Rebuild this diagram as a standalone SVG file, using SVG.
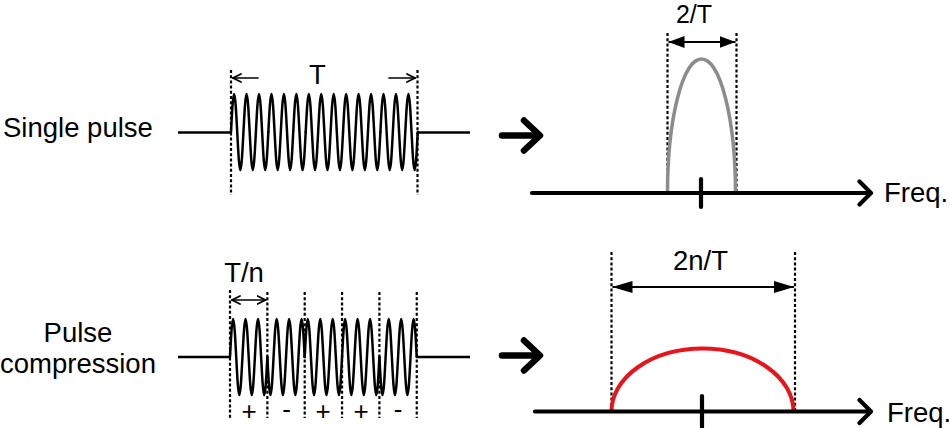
<svg xmlns="http://www.w3.org/2000/svg" width="950" height="428" viewBox="0 0 950 428">
<style>
text{font-family:"Liberation Sans",Arial,sans-serif;fill:#000}
.lbl{font-size:27.5px}
.sm{font-size:25px}
.sgn{font-size:26px;text-anchor:middle}
.wave{fill:none;stroke:#000;stroke-width:2.5;stroke-linecap:round;stroke-linejoin:round}
.base{fill:none;stroke:#000;stroke-width:2.4}
.dot{fill:none;stroke:#000;stroke-width:2.2;stroke-dasharray:3 2.2}
.thin{fill:none;stroke:#000;stroke-width:1.7;stroke-linecap:round;stroke-linejoin:round}
.axis{fill:none;stroke:#000;stroke-width:4.2;stroke-linecap:round;stroke-linejoin:round}
.big{fill:none;stroke:#000;stroke-width:6.5;stroke-linecap:round;stroke-linejoin:round}
.dim{fill:none;stroke:#000;stroke-width:2}
</style>
<defs>
<path id="pc" d="M0,0 c1.015,-19.47 1.986,-38 3.1125,-38 c1.1265,0 2.0975,18.53 3.1125,38 c1.015,19.47 1.986,38 3.1125,38 c1.1265,0 2.0975,-18.53 3.1125,-38 c1.015,-19.47 1.986,-38 3.1125,-38 c1.1265,0 2.0975,18.53 3.1125,38 c1.015,19.47 1.986,38 3.1125,38 c1.1265,0 2.0975,-18.53 3.1125,-38 c1.015,-19.47 1.986,-38 3.1125,-38 c1.1265,0 2.0975,18.53 3.1125,38 c1.015,19.47 1.986,38 3.1125,38 c1.1265,0 2.0975,-18.53 3.1125,-38"/>
<path id="nc" d="M0,0 c1.015,19.47 1.986,38 3.1125,38 c1.1265,0 2.0975,-18.53 3.1125,-38 c1.015,-19.47 1.986,-38 3.1125,-38 c1.1265,0 2.0975,18.53 3.1125,38 c1.015,19.47 1.986,38 3.1125,38 c1.1265,0 2.0975,-18.53 3.1125,-38 c1.015,-19.47 1.986,-38 3.1125,-38 c1.1265,0 2.0975,18.53 3.1125,38 c1.015,19.47 1.986,38 3.1125,38 c1.1265,0 2.0975,-18.53 3.1125,-38 c1.015,-19.47 1.986,-38 3.1125,-38 c1.1265,0 2.0975,18.53 3.1125,38"/>
<marker id="open" viewBox="0 0 10 10" refX="9" refY="5" markerWidth="10" markerHeight="10" markerUnits="userSpaceOnUse" orient="auto-start-reverse">
<path d="M1,1 L9,5 L1,9" fill="none" stroke="#000" stroke-width="1.7" stroke-linecap="round"/>
</marker>
<marker id="fill" viewBox="0 0 16 12" refX="16" refY="6" markerWidth="16" markerHeight="12" markerUnits="userSpaceOnUse" orient="auto-start-reverse">
<path d="M0,0 L16,6 L0,12 Z" fill="#000"/>
</marker>
<marker id="fill2" viewBox="0 0 20 12" refX="20" refY="6" markerWidth="20" markerHeight="12" markerUnits="userSpaceOnUse" orient="auto-start-reverse">
<path d="M0,0 L20,6 L0,12 Z" fill="#000"/>
</marker>
</defs>

<g id="labels">
<text class="lbl" x="3" y="136.5">Single pulse</text>
<text class="lbl" x="78" y="342" text-anchor="middle">Pulse</text>
<text class="lbl" x="78" y="373" text-anchor="middle">compression</text>
</g>

<g id="single-pulse-wave">
<line class="base" x1="178" y1="132.5" x2="231" y2="132.5"/>
<line class="base" x1="417.5" y1="132.5" x2="470" y2="132.5"/>
<g class="wave">
<use href="#pc" x="231" y="132"/>
<use href="#pc" x="268.35" y="132"/>
<use href="#pc" x="305.7" y="132"/>
<use href="#pc" x="343.05" y="132"/>
<use href="#pc" x="380.4" y="132"/>
</g>
<line class="dot" x1="231" y1="70" x2="231" y2="195"/>
<line class="dot" x1="417.5" y1="70" x2="417.5" y2="195"/>
<line class="thin" x1="258" y1="78" x2="233" y2="78" marker-end="url(#open)"/>
<line class="thin" x1="389" y1="78" x2="415" y2="78" marker-end="url(#open)"/>
<text class="lbl" x="317.5" y="83.5" text-anchor="middle">T</text>
</g>

<g id="compressed-wave">
<line class="base" x1="178" y1="357" x2="230" y2="357"/>
<line class="base" x1="416.7" y1="357" x2="470" y2="357"/>
<g class="wave">
<use href="#pc" x="230" y="357"/>
<use href="#nc" x="267.35" y="357"/>
<use href="#pc" x="304.7" y="357"/>
<use href="#pc" x="342.05" y="357"/>
<use href="#nc" x="379.4" y="357"/>
</g>
<line class="dot" x1="230" y1="290" x2="230" y2="418"/>
<line class="dot" x1="267.35" y1="292" x2="267.35" y2="418"/>
<line class="dot" x1="304.7" y1="292" x2="304.7" y2="418"/>
<line class="dot" x1="342.05" y1="292" x2="342.05" y2="418"/>
<line class="dot" x1="379.4" y1="292" x2="379.4" y2="418"/>
<line class="dot" x1="416.75" y1="292" x2="416.75" y2="418"/>
<line class="thin" x1="232" y1="300" x2="265.5" y2="300" marker-start="url(#open)" marker-end="url(#open)"/>
<text class="lbl" x="244" y="282" text-anchor="middle">T/n</text>
<text class="sgn" x="249" y="420">+</text>
<text class="sgn" x="286.5" y="418">-</text>
<text class="sgn" x="323" y="420">+</text>
<text class="sgn" x="361" y="420">+</text>
<text class="sgn" x="398" y="418">-</text>
</g>

<g id="connectors">
<path class="big" d="M502,135.5 L539,135.5 M524,120.5 L540,135.5 L524,150.5"/>
<path class="big" d="M502,355.5 L539,355.5 M524,340.5 L540,355.5 L524,370.5"/>
</g>

<g id="single-spectrum">
<line class="dot" x1="667.5" y1="33" x2="667.5" y2="195"/>
<line class="dot" x1="736.5" y1="33" x2="736.5" y2="195"/>
<line class="dim" x1="668.5" y1="42" x2="735.5" y2="42" marker-start="url(#fill)" marker-end="url(#fill)"/>
<text class="sm" x="694" y="22.5" text-anchor="middle">2/T</text>
<path d="M667.5,193 A34,134 0 0 1 735.5,193" fill="none" stroke="#8c8c8c" stroke-width="3.5"/>
<path class="axis" d="M532,193 L870,193 M859.5,181.5 L871,193 L859.5,204.5"/>
<line class="axis" x1="701" y1="179" x2="701" y2="207" stroke-linecap="butt"/>
<text class="lbl" x="884" y="202">Freq.</text>
</g>

<g id="compressed-spectrum">
<line class="dot" x1="611.5" y1="252" x2="611.5" y2="411"/>
<line class="dot" x1="795" y1="252" x2="795" y2="411"/>
<line class="dim" x1="612.5" y1="287" x2="794" y2="287" marker-start="url(#fill2)" marker-end="url(#fill2)"/>
<text class="lbl" x="700.5" y="270" text-anchor="middle">2n/T</text>
<path d="M611.5,411.5 A91,63 0 0 1 793.5,411.5" fill="none" stroke="#e8141b" stroke-width="4"/>
<path class="axis" d="M535,411.5 L870,411.5 M859.5,400 L871,411.5 L859.5,423"/>
<line class="axis" x1="702" y1="396" x2="702" y2="427" stroke-linecap="butt"/>
<text class="lbl" x="887" y="422">Freq.</text>
</g>
</svg>
